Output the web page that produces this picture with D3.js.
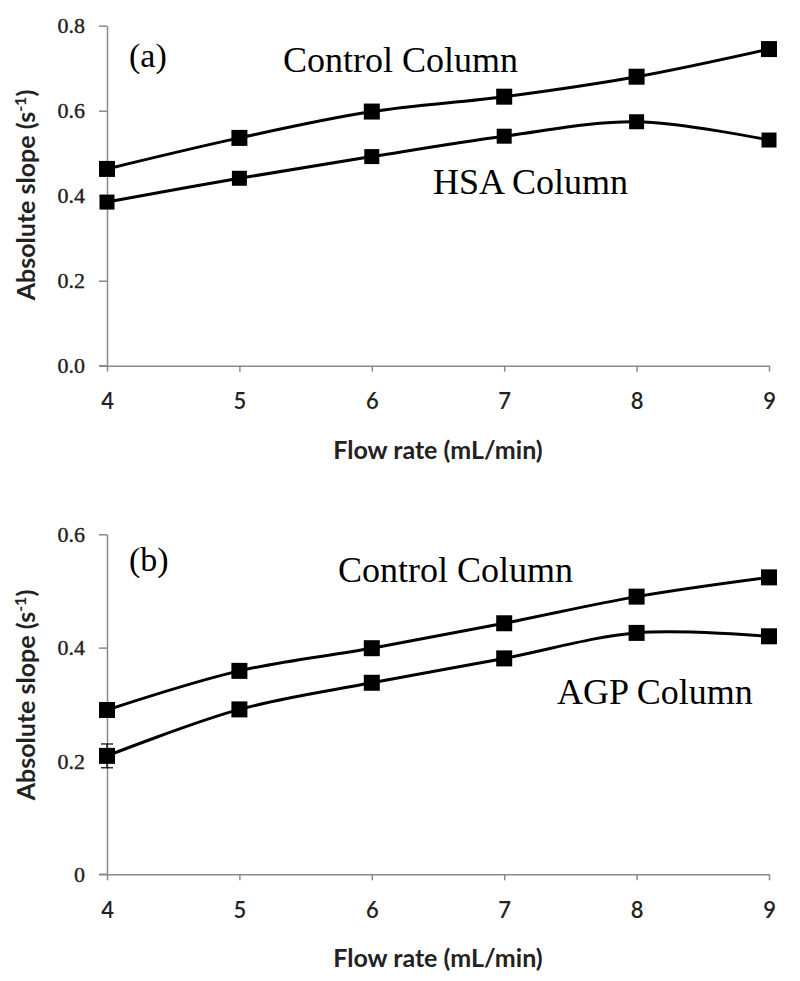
<!DOCTYPE html>
<html><head><meta charset="utf-8">
<script src="https://cdn.jsdelivr.net/npm/d3@7"></script>
<style>html,body{margin:0;padding:0;background:#fff;}</style>
</head><body>
<svg id="chart" width="800" height="981"></svg>
<script>
// ---- data ----
const flowRates = [4, 5, 6, 7, 8, 9];
const controlA = [0.463, 0.536, 0.598, 0.633, 0.680, 0.745];
const hsaA     = [0.385, 0.441, 0.492, 0.540, 0.574, 0.531];
const controlB = [0.290, 0.359, 0.399, 0.443, 0.490, 0.524];
const agpB     = [0.209, 0.291, 0.338, 0.381, 0.426, 0.420];
const agpBErr  = [0.021, 0, 0, 0, 0, 0];
const yTicksA = [0, 0.2, 0.4, 0.6, 0.8];
const yTickLabelsA = ["0.0", "0.2", "0.4", "0.6", "0.8"];
const yTicksB = [0, 0.2, 0.4, 0.6];
const yTickLabelsB = ["0", "0.2", "0.4", "0.6"];
const xLabel = "Flow rate (mL/min)";
const yLabel = "Absolute slope (s";

const svg = d3.select("#chart");
const serif = "'Liberation Serif', 'Times New Roman', serif";
const sans = "Lato, 'Open Sans', sans-serif";
const axisColor = "#8a8a8a";

function panel(cfg) {
  const x = d3.scaleLinear().domain([4, 9]).range([107, 769]);
  const y = d3.scaleLinear().domain(cfg.yDomain).range([cfg.bottom, cfg.bottom - 340]);
  const g = svg.append("g");

  // y axis
  const yAxis = d3.axisLeft(y).tickValues(cfg.yTicks)
    .tickFormat((d, i) => cfg.yTickLabels[i]).tickSizeOuter(0).tickSizeInner(8).tickPadding(14);
  const ya = g.append("g").attr("transform", "translate(107,0)").call(yAxis);
  ya.select(".domain").attr("stroke", axisColor).attr("stroke-width", 1.5);
  ya.selectAll(".tick line").attr("stroke", axisColor).attr("stroke-width", 1.5);
  ya.selectAll(".tick text").attr("font-family", serif).attr("font-size", 22)
    .attr("font-weight", "normal").attr("fill", "#222").attr("stroke", "#222").attr("stroke-width", 0.4);

  // x axis
  const xAxis = d3.axisBottom(x).tickValues(flowRates).tickFormat(d3.format("d"))
    .tickSizeOuter(0).tickSizeInner(6).tickPadding(22);
  const xa = g.append("g").attr("transform", `translate(0,${cfg.bottom})`).call(xAxis);
  xa.select(".domain").attr("stroke", axisColor).attr("stroke-width", 1.5);
  xa.selectAll(".tick line").attr("stroke", axisColor).attr("stroke-width", 1.5);
  xa.selectAll(".tick text").attr("font-family", sans).attr("font-size", 22)
    .attr("font-weight", 600).attr("fill", "#222");
  // extend x domain line slightly left of y axis
  g.append("line").attr("x1", 99).attr("x2", 107).attr("y1", cfg.bottom).attr("y2", cfg.bottom)
    .attr("stroke", axisColor).attr("stroke-width", 1.5);

  // axis titles
  g.append("text").attr("x", 438).attr("y", cfg.bottom + 93).attr("text-anchor", "middle")
    .attr("font-family", sans).attr("font-weight", "bold").attr("font-size", 25).attr("fill", "#222")
    .text(xLabel);
  const yt = g.append("text")
    .attr("transform", `translate(35,${cfg.yTitleY}) rotate(-90)`)
    .attr("text-anchor", "middle").attr("font-family", sans).attr("font-weight", "bold")
    .attr("font-size", 25).attr("fill", "#222");
  yt.append("tspan").text(yLabel);
  yt.append("tspan").attr("dy", -9).attr("font-size", 16).text("-1");
  yt.append("tspan").attr("dy", 9).text(")");

  // lines
  const line = d3.line().x((d, i) => x(flowRates[i])).y(d => y(d)).curve(d3.curveCatmullRom.alpha(0.5));
  cfg.series.forEach(s => {
    g.append("path").datum(s.values).attr("d", line).attr("fill", "none")
      .attr("stroke", "#000").attr("stroke-width", 3);
    if (s.err) {
      s.values.forEach((v, i) => {
        if (!s.err[i]) return;
        const cx = x(flowRates[i]);
        g.append("line").attr("x1", cx).attr("x2", cx).attr("y1", y(v - s.err[i])).attr("y2", y(v + s.err[i]))
          .attr("stroke", "#000").attr("stroke-width", 1.2);
        [v - s.err[i], v + s.err[i]].forEach(e => {
          g.append("line").attr("x1", cx - 6).attr("x2", cx + 6).attr("y1", y(e)).attr("y2", y(e))
            .attr("stroke", "#000").attr("stroke-width", 1.2);
        });
      });
    }
    g.selectAll(null).data(s.values).join("rect")
      .attr("x", (d, i) => x(flowRates[i]) - s.size / 2)
      .attr("y", d => y(d) - s.size / 2)
      .attr("width", s.size).attr("height", s.size).attr("fill", "#000");
  });

  // annotations
  cfg.labels.forEach(l => {
    g.append("text").attr("x", l.x).attr("y", l.y).attr("font-family", serif)
      .attr("font-size", l.size).attr("fill", "#000").text(l.text);
  });
}

panel({
  bottom: 365.7, yTitleY: 195, yDomain: [0, 0.8], yTicks: yTicksA, yTickLabels: yTickLabelsA,
  series: [{values: controlA, size: 16}, {values: hsaA, size: 15}],
  labels: [
    {text: "(a)", x: 129, y: 67, size: 34},
    {text: "Control Column", x: 283, y: 72, size: 36},
    {text: "HSA Column", x: 433, y: 194, size: 36}
  ]
});
panel({
  bottom: 874.3, yTitleY: 695, yDomain: [0, 0.6], yTicks: yTicksB, yTickLabels: yTickLabelsB,
  series: [{values: controlB, size: 16}, {values: agpB, size: 16, err: agpBErr}],
  labels: [
    {text: "(b)", x: 129, y: 571, size: 34},
    {text: "Control Column", x: 338, y: 582, size: 36},
    {text: "AGP Column", x: 557, y: 704, size: 36}
  ]
});
</script>
</body></html>
